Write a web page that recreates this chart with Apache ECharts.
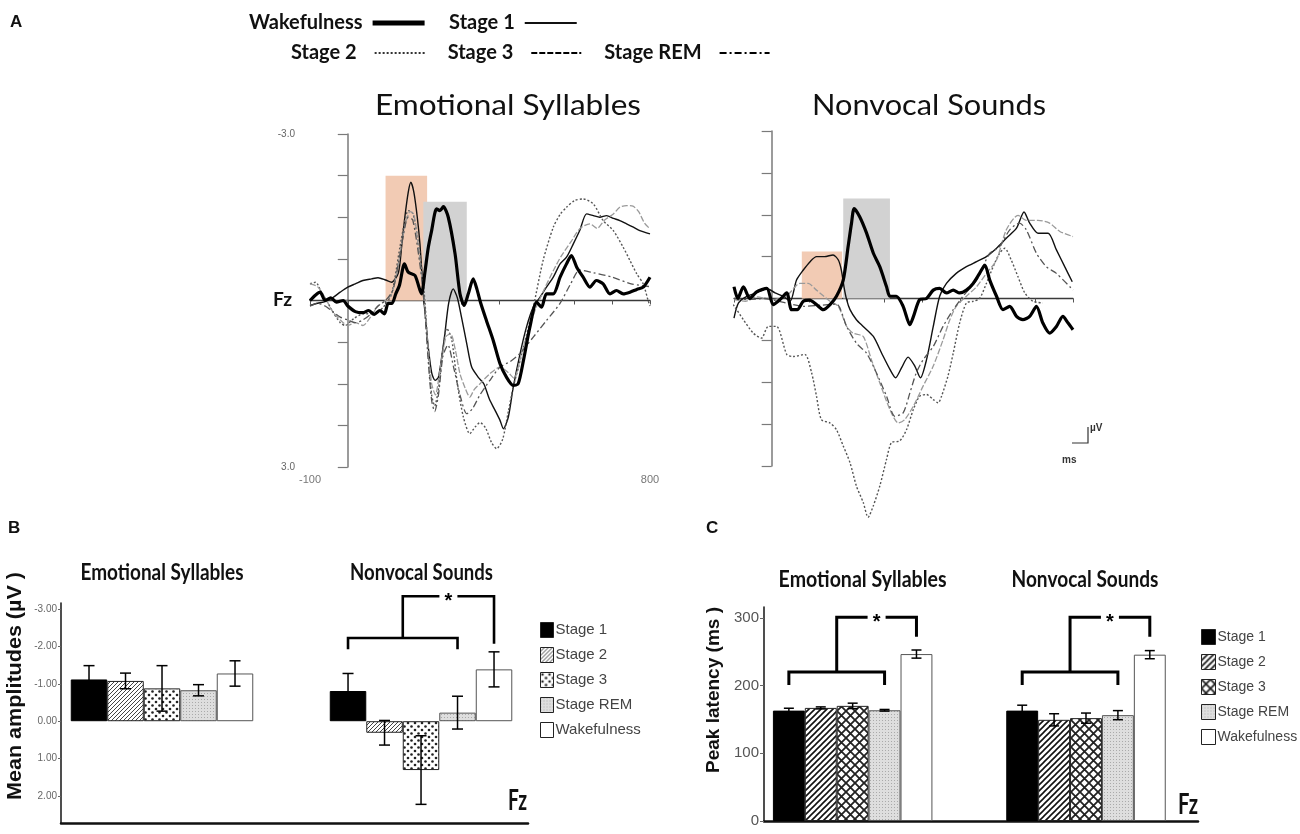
<!DOCTYPE html>
<html>
<head>
<meta charset="utf-8">
<script src="https://cdn.jsdelivr.net/npm/echarts@6/dist/echarts.min.js"></script>
<style>
html, body { margin: 0; padding: 0; background: #fff; }
#chart { width: 1300px; height: 834px; }
</style>
</head>
<body>
<div id="chart"></div>
<script>
// ---------- data ----------
let stages = ['Stage 1', 'Stage 2', 'Stage 3', 'Stage REM', 'Wakefulness'];

// A: ERP at Fz, [ms, µV] (negative up)
let emoWake = [[-100,0.0],[-85,-0.1],[-73,-0.15],[-60,0.0],[-45,-0.05],[-30,0.03],[-12,0.0],[0,0.1],[20,0.2],[40,0.22],[55,0.18],[70,0.25],[85,0.18],[97,0.24],[107,0.05],[117,0.05],[127,-0.12],[137,-0.28],[150,-0.66],[160,-0.51],[178,-0.45],[195,-0.12],[204,-0.5],[213,-0.95],[222,-1.26],[235,-1.65],[244,-1.62],[253,-1.69],[266,-1.5],[284,-0.84],[297,-0.12],[308,0.09],[319,-0.12],[332,-0.39],[342,-0.2],[352,0.05],[367,0.36],[385,0.72],[403,1.14],[420,1.38],[438,1.53],[451,1.5],[465,1.08],[482,0.48],[500,0.03],[513,0.12],[526,-0.12],[544,-0.12],[562,-0.42],[579,-0.66],[592,-0.81],[606,-0.6],[623,-0.42],[641,-0.24],[658,-0.36],[676,-0.3],[694,-0.12],[711,-0.18],[729,-0.12],[747,-0.15],[765,-0.2],[782,-0.24],[800,-0.42]];
let emoS1 = [[-100,0.09],[-80,0.05],[-60,0.02],[-40,-0.05],[-20,-0.15],[0,-0.24],[20,-0.3],[40,-0.36],[63,-0.39],[80,-0.41],[100,-0.37],[116,-0.33],[134,-0.5],[143,-1.0],[151,-1.5],[160,-1.95],[167,-2.13],[175,-1.95],[184,-1.5],[191,-1.02],[200,-0.12],[207,0.4],[213,0.84],[222,1.3],[231,1.44],[240,1.38],[250,0.95],[257,0.6],[267,0.05],[279,-0.21],[290,-0.05],[301,0.3],[315,0.78],[328,1.2],[345,1.38],[360,1.5],[375,1.78],[390,1.98],[403,2.16],[412,2.31],[425,2.1],[438,1.56],[456,0.96],[473,0.48],[491,0.12],[509,-0.06],[526,-0.24],[544,-0.42],[562,-0.66],[579,-0.78],[597,-1.02],[614,-1.26],[632,-1.56],[650,-1.53],[667,-1.5],[685,-1.53],[703,-1.48],[720,-1.44],[738,-1.38],[756,-1.32],[773,-1.26],[800,-1.2]];
let emoS2 = [[-100,-0.3],[-85,-0.33],[-70,-0.15],[-56,0.0],[-40,0.2],[-20,0.4],[-7,0.45],[15,0.33],[41,0.24],[68,0.24],[94,0.12],[116,-0.12],[138,-0.96],[150,-1.4],[160,-1.62],[173,-1.56],[191,-0.84],[204,0.0],[213,0.96],[222,1.7],[230,1.9],[240,1.6],[252,0.9],[262,0.5],[275,0.7],[290,1.5],[306,2.1],[323,2.4],[337,2.28],[350,2.2],[365,2.3],[380,2.55],[394,2.67],[410,2.5],[425,2.0],[438,1.56],[452,1.2],[465,0.84],[491,0.12],[517,-0.72],[544,-1.32],[562,-1.55],[579,-1.68],[600,-1.8],[623,-1.83],[650,-1.74],[676,-1.44],[703,-1.26],[729,-0.96],[747,-0.72],[765,-0.48],[782,-0.3],[795,0.0],[800,0.1]];
let emoS3 = [[-100,-0.3],[-80,-0.25],[-60,-0.05],[-40,0.2],[-20,0.35],[0,0.45],[20,0.4],[40,0.45],[60,0.3],[80,0.1],[100,0.0],[115,-0.1],[130,-0.5],[150,-1.3],[165,-1.6],[175,-1.55],[190,-0.8],[202,0.0],[212,0.8],[222,1.5],[232,1.7],[245,1.2],[260,0.65],[272,0.6],[285,0.9],[297,1.32],[312,1.6],[323,1.74],[335,1.6],[350,1.5],[376,1.32],[403,1.2],[425,1.3],[440,1.4],[460,0.95],[480,0.5],[500,0.1],[520,-0.2],[545,-0.55],[565,-0.8],[590,-1.05],[615,-1.3],[641,-1.38],[660,-1.3],[680,-1.45],[703,-1.56],[720,-1.68],[738,-1.71],[755,-1.7],[770,-1.6],[785,-1.4],[800,-1.29]];
let emoREM = [[-100,0.1],[-80,0.05],[-60,0.1],[-40,0.2],[-20,0.3],[0,0.35],[20,0.4],[40,0.35],[60,0.25],[80,0.1],[100,0.0],[120,-0.2],[140,-0.9],[160,-1.5],[172,-1.45],[190,-0.7],[202,0.0],[212,1.0],[222,1.8],[230,2.0],[240,1.7],[252,1.0],[265,0.8],[280,1.2],[297,1.7],[315,2.04],[330,1.95],[350,1.7],[375,1.45],[403,1.2],[430,1.1],[455,0.96],[491,0.66],[526,0.36],[561,0.06],[590,-0.3],[614,-0.55],[650,-0.5],[700,-0.42],[750,-0.3],[800,-0.25]];

let nvWake = [[-100,-0.21],[-90,0.0],[-75,-0.21],[-58,0.0],[-40,-0.12],[-13,-0.18],[4,0.11],[22,0.02],[40,-0.1],[53,0.2],[68,0.2],[84,0.05],[101,0.03],[119,0.11],[137,0.2],[155,0.11],[172,-0.04],[190,-0.33],[203,-0.93],[212,-1.35],[219,-1.61],[234,-1.46],[252,-1.17],[270,-0.81],[287,-0.57],[305,-0.21],[314,-0.04],[331,-0.04],[349,0.14],[367,0.47],[376,0.33],[393,0.02],[411,0.0],[429,-0.15],[446,-0.18],[464,-0.1],[482,-0.15],[499,-0.1],[517,-0.15],[535,-0.27],[552,-0.45],[566,-0.6],[579,-0.33],[597,-0.04],[614,0.2],[632,0.14],[650,0.32],[667,0.38],[685,0.32],[703,0.14],[720,0.44],[738,0.62],[756,0.5],[773,0.32],[787,0.44],[800,0.56]];
let nvS1 = [[-100,0.35],[-88,0.08],[-66,-0.04],[-40,-0.1],[-13,-0.18],[9,-0.1],[31,-0.04],[49,0.05],[66,-0.33],[84,-0.51],[102,-0.66],[119,-0.75],[140,-0.75],[163,-0.78],[177,-0.69],[185,-0.51],[192,-0.21],[199,0.02],[208,0.2],[225,0.38],[243,0.5],[270,0.68],[292,0.98],[314,1.27],[329,1.42],[345,1.24],[362,1.05],[380,1.21],[395,1.42],[411,1.1],[429,0.5],[446,-0.04],[464,-0.27],[490,-0.45],[517,-0.57],[544,-0.66],[570,-0.75],[597,-0.9],[623,-1.08],[650,-1.26],[670,-1.55],[685,-1.35],[707,-1.17],[734,-1.17],[756,-0.87],[778,-0.57],[798,-0.3]];
let nvS2 = [[-168,-0.24],[-146,-0.18],[-119,-0.04],[-99,0.14],[-75,0.38],[-49,0.62],[-27,0.71],[-9,0.5],[13,0.5],[40,1.0],[57,1.04],[88,1.0],[106,1.33],[119,1.75],[132,2.17],[155,2.23],[172,2.35],[190,2.64],[208,2.94],[225,3.36],[243,3.65],[256,3.92],[270,3.71],[287,3.36],[305,2.88],[318,2.58],[340,2.55],[358,2.35],[376,1.99],[393,1.75],[411,1.72],[429,1.81],[442,1.87],[451,1.75],[468,1.39],[482,0.98],[499,0.44],[517,0.08],[535,0.05],[552,0.0],[570,-0.27],[588,-0.57],[605,-0.81],[619,-0.9],[636,-0.69],[654,-0.39],[672,-0.1],[694,0.05],[720,0.08]];
let nvS3 = [[-100,0.02],[-70,0.05],[-40,-0.03],[0,0.02],[40,-0.05],[75,-0.27],[97,-0.27],[119,-0.15],[137,-0.05],[155,0.05],[177,0.14],[199,0.5],[216,0.62],[243,0.68],[265,1.1],[287,1.51],[314,1.99],[336,2.23],[353,2.17],[376,1.93],[402,1.57],[429,1.21],[455,0.74],[473,0.38],[490,0.14],[517,-0.04],[544,-0.21],[570,-0.45],[597,-0.69],[623,-1.23],[654,-1.49],[676,-1.4],[707,-1.4],[738,-1.35],[765,-1.2],[800,-1.11]];
let nvREM = [[-100,0.0],[-60,0.02],[-20,0.0],[20,0.05],[50,0.1],[84,0.14],[130,0.12],[172,0.1],[199,0.5],[225,0.8],[252,0.98],[278,1.33],[305,1.75],[327,2.11],[349,2.05],[367,1.69],[384,1.33],[402,1.1],[429,0.86],[455,0.5],[482,0.2],[508,-0.04],[544,-0.33],[561,-0.57],[579,-0.81],[605,-0.93],[632,-1.23],[658,-1.35],[676,-1.23],[703,-0.81],[729,-0.57],[756,-0.45],[800,-0.15]];

// analysis windows [from ms, to ms, µV height]
let emoWindows = [[100, 210, -2.25], [200, 315, -1.78]];
let nvWindows = [[80, 187, -0.84], [190, 314, -1.79]];

// B: mean amplitudes (µV), order of stages
let ampEmo = [-1.12, -1.08, -0.88, -0.83, -1.28];
let ampEmoErr = [0.37, 0.21, 0.61, 0.15, 0.34];
let ampNv = [-0.81, 0.31, 1.31, -0.23, -1.39];
let ampNvErr = [0.47, 0.33, 0.92, 0.44, 0.47];
let ampTicks = [-3, -2, -1, 0, 1, 2];
// [group, low bar level, leg end, top level, wake leg end]
let ampBrackets = [[2, -2.23, -1.93, -3.35, -2.08]];

// C: peak latency (ms)
let latEmo = [163, 167, 170, 163.5, 246.5];
let latEmoErr = [3.5, 1.5, 4, 1.2, 6];
let latNv = [163, 149.4, 151.9, 156.3, 245.6];
let latNvErr = [8, 9, 7.5, 6.7, 6];
let latTicks = [0, 100, 200, 300];
let latBrackets = [[1, 220, 201, 301, 272], [2, 220, 201, 301, 272]];

// ---------- styles ----------
let waveStyle = {
    'Wakefulness': {color: '#000', width: 3.2, type: 'solid'},
    'Stage 1': {color: '#111', width: 1.4, type: 'solid'},
    'Stage 2': {color: '#555', width: 1.4, type: [2, 2]},
    'Stage 3': {color: '#9a9a9a', width: 1.3, type: [6, 2]},
    'Stage REM': {color: '#555', width: 1.3, type: [7, 3, 2, 3]}
};
let windowColors = ['#f2cbb4', '#d2d2d2'];

function makePattern(size, draw) {
    let c = document.createElement('canvas');
    c.width = size;
    c.height = size;
    let ctx = c.getContext('2d');
    draw(ctx, size);
    return {image: c, repeat: 'repeat'};
}

function hatch(size, width, color) {
    return makePattern(size, function (ctx, s) {
        ctx.fillStyle = '#fff';
        ctx.fillRect(0, 0, s, s);
        ctx.strokeStyle = color;
        ctx.lineWidth = width;
        ctx.beginPath();
        ctx.moveTo(-1, s + 1); ctx.lineTo(s + 1, -1);
        ctx.moveTo(-1, 1); ctx.lineTo(1, -1);
        ctx.moveTo(s - 1, s + 1); ctx.lineTo(s + 1, s - 1);
        ctx.stroke();
    });
}

let dotsB = makePattern(7, function (ctx, s) {
    ctx.fillStyle = '#fff';
    ctx.fillRect(0, 0, s, s);
    ctx.fillStyle = '#222';
    ctx.beginPath();
    ctx.arc(2, 2, 1.3, 0, Math.PI * 2);
    ctx.fill();
    ctx.beginPath();
    ctx.arc(5.5, 5.5, 1.3, 0, Math.PI * 2);
    ctx.fill();
});
let crossC = makePattern(9, function (ctx, s) {
    ctx.fillStyle = '#fff';
    ctx.fillRect(0, 0, s, s);
    ctx.strokeStyle = '#222';
    ctx.lineWidth = 1.8;
    ctx.beginPath();
    ctx.moveTo(0, 0); ctx.lineTo(s, s);
    ctx.moveTo(s, 0); ctx.lineTo(0, s);
    ctx.stroke();
});
let stipple = makePattern(3, function (ctx, s) {
    ctx.fillStyle = '#dedede';
    ctx.fillRect(0, 0, s, s);
    ctx.fillStyle = '#aaa';
    ctx.fillRect(0, 0, 1, 1);
});

let patB = ['#000', hatch(4, 1, '#444'), dotsB, stipple, '#fff'];
let patC = ['#000', hatch(6, 1.6, '#111'), crossC, stipple, '#fff'];
let borderCols = ['#000', '#222', '#222', '#555', '#555'];

// ---------- text helpers ----------
let measureCtx = document.createElement('canvas').getContext('2d');
function fitText(text, cx, cy, width, size, weight, family, color, rotation) {
    measureCtx.font = weight + ' ' + size + 'px ' + family;
    let sx = width / measureCtx.measureText(text).width;
    return {
        type: 'text', x: cx, y: cy, scaleX: sx, rotation: rotation || 0, silent: true,
        style: {
            text: text, fontSize: size, fontWeight: weight, fontFamily: family, fill: color || '#111',
            align: 'center', verticalAlign: 'middle', textAlign: 'center', textVerticalAlign: 'middle'
        }
    };
}
function plainText(text, x, y, size, weight, family, color) {
    return {
        type: 'text', x: x, y: y, silent: true,
        style: {text: text, fontSize: size, fontWeight: weight, fontFamily: family, fill: color || '#111',
            align: 'left', verticalAlign: 'middle', textAlign: 'left', textVerticalAlign: 'middle'}
    };
}

// ---------- series ----------
function waveSeries(name, data, axis, windows) {
    let s = {
        name: name, type: 'line', xAxisIndex: axis, yAxisIndex: axis, data: data,
        symbol: 'none', smooth: 0.25, clip: false, lineStyle: waveStyle[name],
        z: name === 'Wakefulness' ? 4 : 3
    };
    if (windows) {
        s.markArea = {
            silent: true,
            data: windows.map(function (w, i) {
                return [{xAxis: w[0], yAxis: 0, itemStyle: {color: windowColors[i], opacity: 1}}, {xAxis: w[1], yAxis: w[2]}];
            })
        };
    }
    return s;
}

let series = [
    waveSeries('Wakefulness', emoWake, 0, emoWindows),
    waveSeries('Stage 1', emoS1, 0),
    waveSeries('Stage 2', emoS2, 0),
    waveSeries('Stage 3', emoS3, 0),
    waveSeries('Stage REM', emoREM, 0),
    waveSeries('Wakefulness', nvWake, 1, nvWindows),
    waveSeries('Stage 1', nvS1, 1),
    waveSeries('Stage 2', nvS2, 1),
    waveSeries('Stage 3', nvS3, 1),
    waveSeries('Stage REM', nvREM, 1)
];

let barWB = 36.5, barWC = 31.9;

stages.forEach(function (name, k) {
    series.push({
        name: name, type: 'bar', xAxisIndex: 2, yAxisIndex: 2, barWidth: barWB, barGap: '0%',
        data: [[1, ampEmo[k]], [2, ampNv[k]]],
        itemStyle: {color: patB[k], borderColor: borderCols[k], borderWidth: 1}
    });
});
stages.forEach(function (name, k) {
    series.push({
        name: name, type: 'bar', xAxisIndex: 3, yAxisIndex: 3, barWidth: barWC, barGap: '0%',
        data: [[1, latEmo[k]], [2, latNv[k]]],
        itemStyle: {color: patC[k], borderColor: borderCols[k], borderWidth: 1}
    });
});

function errorData(m1, e1, m2, e2) {
    let out = [];
    m1.forEach(function (v, k) { out.push([1, v, e1[k], k]); });
    m2.forEach(function (v, k) { out.push([2, v, e2[k], k]); });
    return out;
}

function errorRender(bw, cap) {
    return function (params, api) {
        let g = api.value(0), m = api.value(1), e = api.value(2), k = api.value(3);
        let a = api.coord([g, m - e]), b = api.coord([g, m + e]);
        let x = a[0] + (k - 2) * bw;
        let st = {stroke: '#000', lineWidth: 1.5};
        return {
            type: 'group',
            children: [
                {type: 'line', shape: {x1: x, y1: a[1], x2: x, y2: b[1]}, style: st},
                {type: 'line', shape: {x1: x - cap, y1: a[1], x2: x + cap, y2: a[1]}, style: st},
                {type: 'line', shape: {x1: x - cap, y1: b[1], x2: x + cap, y2: b[1]}, style: st}
            ]
        };
    };
}

function bracketRender(bw, lw) {
    return function (params, api) {
        let g = api.value(0);
        let yLow = api.coord([g, api.value(1)])[1];
        let yLeg = api.coord([g, api.value(2)])[1];
        let yTop = api.coord([g, api.value(3)])[1];
        let yEnd = api.coord([g, api.value(4)])[1];
        let cx = api.coord([g, api.value(1)])[0];
        let x1 = cx - 2 * bw, x4 = cx + bw, xw = cx + 2 * bw;
        let xm = (x1 + x4) / 2, xs = (xm + xw) / 2;
        let st = {stroke: '#000', lineWidth: lw, fill: null};
        return {
            type: 'group',
            children: [
                {type: 'polyline', shape: {points: [[x1, yLeg], [x1, yLow], [x4, yLow], [x4, yLeg]]}, style: st},
                {type: 'polyline', shape: {points: [[xm, yLow], [xm, yTop], [xs - 9, yTop]]}, style: st},
                {type: 'polyline', shape: {points: [[xs + 9, yTop], [xw, yTop], [xw, yEnd]]}, style: st},
                {type: 'text', x: xs, y: yTop + 5, style: {text: '*', fontSize: 20, fontWeight: 'bold', fontFamily: 'Liberation Sans', fill: '#000', align: 'center', verticalAlign: 'middle'}}
            ]
        };
    };
}

series.push({type: 'custom', xAxisIndex: 2, yAxisIndex: 2, data: errorData(ampEmo, ampEmoErr, ampNv, ampNvErr), encode: {x: 0, y: 1}, renderItem: errorRender(barWB, 5.5), z: 5, clip: false});
series.push({type: 'custom', xAxisIndex: 3, yAxisIndex: 3, data: errorData(latEmo, latEmoErr, latNv, latNvErr), encode: {x: 0, y: 1}, renderItem: errorRender(barWC, 5), z: 5, clip: false});
series.push({type: 'custom', xAxisIndex: 2, yAxisIndex: 2, data: ampBrackets, encode: {x: 0, y: 1}, renderItem: bracketRender(barWB, 2.6), z: 5, clip: false});
series.push({type: 'custom', xAxisIndex: 3, yAxisIndex: 3, data: latBrackets, encode: {x: 0, y: 1}, renderItem: bracketRender(barWC, 3), z: 5, clip: false});

// ---------- axes ----------
function waveX(idx, labels) {
    return {
        gridIndex: idx, type: 'value', min: -100, max: 800, interval: 100,
        axisLine: {onZero: true, lineStyle: {color: '#3a3a3a', width: 1.3}},
        axisTick: {show: true, length: 4, lineStyle: {color: '#555'}},
        axisLabel: {
            show: labels, margin: 7, fontSize: 11, color: '#777', fontFamily: 'Liberation Sans',
            showMinLabel: true, showMaxLabel: true,
            formatter: function (v) { return (v === -100 || v === 800) ? String(v) : ''; }
        },
        splitLine: {show: false}
    };
}
function waveY(idx, labels) {
    return {
        gridIndex: idx, type: 'value', min: -3, max: 3, interval: 0.75, inverse: true,
        axisLine: {show: true, onZero: true, lineStyle: {color: '#7a7a7a', width: 1.5}},
        axisTick: {show: true, length: 10, lineStyle: {color: '#7a7a7a', width: 1.2}},
        axisLabel: {
            show: labels, margin: 15, fontSize: 10, color: '#666', fontFamily: 'Liberation Sans',
            showMinLabel: true, showMaxLabel: true,
            formatter: function (v) { return v === -3 ? '-3.0' : (v === 3 ? '3.0' : ''); }
        },
        splitLine: {show: false}
    };
}

let option = {
    animation: false,
    backgroundColor: '#fff',
    grid: [
        {left: 310, top: 134, width: 340, height: 333},
        {left: 734, top: 131, width: 339, height: 335},
        {left: 61, top: 603, width: 467, height: 220},
        {left: 764, top: 607, width: 434, height: 214}
    ],
    xAxis: [
        waveX(0, true),
        waveX(1, false),
        {gridIndex: 2, type: 'value', min: 0.61, max: 2.413,
            axisLine: {onZero: false, lineStyle: {color: '#111', width: 2.5}},
            axisTick: {show: false}, axisLabel: {show: false}, splitLine: {show: false}},
        {gridIndex: 3, type: 'value', min: 0.62, max: 2.48,
            axisLine: {onZero: false, lineStyle: {color: '#111', width: 2.5}},
            axisTick: {show: false}, axisLabel: {show: false}, splitLine: {show: false}}
    ],
    yAxis: [
        waveY(0, true),
        waveY(1, false),
        {gridIndex: 2, type: 'value', min: -3.17, max: 2.73, inverse: true,
            axisLine: {onZero: false, lineStyle: {color: '#222', width: 1.6}},
            axisTick: {show: true, length: 3, customValues: ampTicks, lineStyle: {color: '#666'}},
            axisLabel: {customValues: ampTicks, margin: 4, fontSize: 10, color: '#666', fontFamily: 'Liberation Sans',
                formatter: function (v) { return v.toFixed(2); }},
            splitLine: {show: false}},
        {gridIndex: 3, type: 'value', min: 0, max: 316,
            axisLine: {onZero: false, lineStyle: {color: '#222', width: 1.6}},
            axisTick: {show: true, length: 4, customValues: latTicks, lineStyle: {color: '#666'}},
            axisLabel: {customValues: latTicks, margin: 5, fontSize: 15, color: '#555', fontFamily: 'Liberation Sans'},
            splitLine: {show: false}}
    ],
    legend: [
        {
            data: [{name: 'Wakefulness', lineStyle: {width: 5}}, 'Stage 1'],
            left: 244, top: 8, align: 'right', itemWidth: 52, itemHeight: 20, itemGap: 22,
            selectedMode: false, itemStyle: {opacity: 0},
            textStyle: {fontFamily: 'Lato', fontWeight: 'bold', fontSize: 20, color: '#111', padding: [0, 5, 0, 0]}
        },
        {
            data: [{name: 'Stage 2', lineStyle: {color: '#333', width: 2}}, {name: 'Stage 3', lineStyle: {color: '#000', width: 2}}, {name: 'Stage REM', lineStyle: {color: '#000', width: 2}}],
            left: 286, top: 38, align: 'right', itemWidth: 50, itemHeight: 20, itemGap: 22,
            selectedMode: false, itemStyle: {opacity: 0},
            textStyle: {fontFamily: 'Lato', fontWeight: 'bold', fontSize: 20, color: '#111', padding: [0, 13, 0, 0]}
        },
        {
            data: stages.map(function (n, k) { return {name: n, icon: 'rect', itemStyle: {color: patB[k], borderColor: '#222', borderWidth: 1, opacity: 1}}; }),
            left: 535, top: 617, orient: 'vertical', itemWidth: 13, itemHeight: 15, itemGap: 9,
            selectedMode: false,
            textStyle: {fontFamily: 'Liberation Sans', fontSize: 15, color: '#444', padding: [0, 0, 0, -3]}
        },
        {
            data: stages.map(function (n, k) { return {name: n, icon: 'rect', itemStyle: {color: patC[k], borderColor: '#222', borderWidth: 1, opacity: 1}}; }),
            left: 1196, top: 624, orient: 'vertical', itemWidth: 14, itemHeight: 15, itemGap: 9,
            selectedMode: false,
            textStyle: {fontFamily: 'Liberation Sans', fontSize: 14, color: '#444', padding: [0, 0, 0, -3]}
        }
    ],
    graphic: [
        plainText('A', 10, 22, 17, 'bold', 'Liberation Sans'),
        plainText('B', 8, 528, 17, 'bold', 'Liberation Sans'),
        plainText('C', 706, 528, 17, 'bold', 'Liberation Sans'),
        fitText('Emotional Syllables', 508, 106, 266, 28, 'normal', 'Lato'),
        fitText('Nonvocal Sounds', 929, 106, 234, 28, 'normal', 'Lato'),
        fitText('Fz', 282.5, 300, 19, 19, 'bold', 'Lato'),
        fitText('Emotional Syllables', 162, 572.5, 163, 23, 'bold', 'Lato'),
        fitText('Nonvocal Sounds', 421.5, 572.5, 143, 23, 'bold', 'Lato'),
        fitText('Emotional Syllables', 862.6, 580, 168, 23, 'bold', 'Lato'),
        fitText('Nonvocal Sounds', 1085, 580, 147, 23, 'bold', 'Lato'),
        fitText('Fz', 517.5, 801, 19, 29, 'bold', 'Lato'),
        fitText('Fz', 1188, 804.5, 20, 29, 'bold', 'Lato'),
        fitText('Mean amplitudes (µV )', 15, 686, 228, 21, 'bold', 'Liberation Sans', '#111', Math.PI / 2),
        fitText('Peak latency (ms )', 714.5, 690, 166, 18, 'bold', 'Liberation Sans', '#111', Math.PI / 2),
        {type: 'polyline', silent: true, shape: {points: [[1072, 443], [1088, 443], [1088, 427]]}, style: {stroke: '#333', lineWidth: 1.2, fill: null}},
        plainText('µV', 1090, 428, 10, 'bold', 'Liberation Sans', '#333'),
        plainText('ms', 1062, 460, 10, 'bold', 'Liberation Sans', '#333')
    ],
    series: series
};

let chart = echarts.init(document.getElementById('chart'));
chart.setOption(option);
</script>
</body>
</html>
